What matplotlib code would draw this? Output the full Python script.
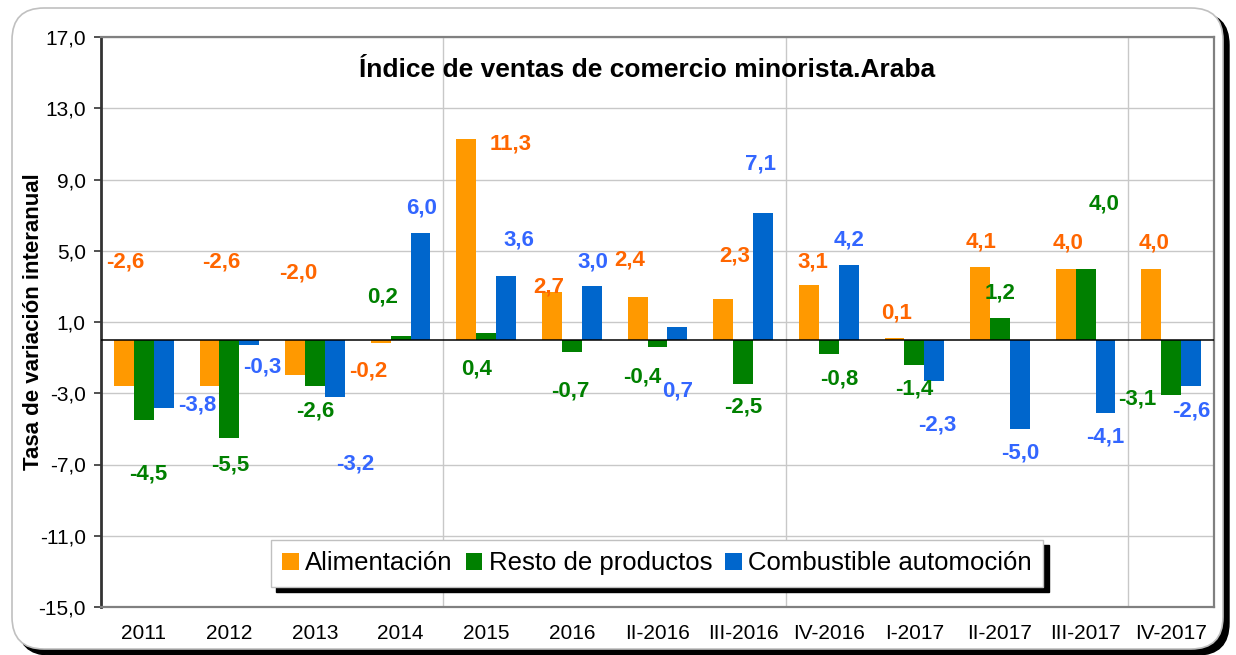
import matplotlib
matplotlib.use("Agg")
import matplotlib.pyplot as plt
from matplotlib.patches import FancyBboxPatch
import numpy as np

plt.rcParams['font.family'] = ['Liberation Sans', 'DejaVu Sans']

# %% Data
categories = ["2011", "2012", "2013", "2014", "2015", "2016", "II-2016", "III-2016",
              "IV-2016", "I-2017", "II-2017", "III-2017", "IV-2017"]
alimentacion = [-2.6, -2.6, -2.0, -0.2, 11.3, 2.7, 2.4, 2.3, 3.1, 0.1, 4.1, 4.0, 4.0]
resto = [-4.5, -5.5, -2.6, 0.2, 0.4, -0.7, -0.4, -2.5, -0.8, -1.4, 1.2, 4.0, -3.1]
combustible = [-3.8, -0.3, -3.2, 6.0, 3.6, 3.0, 0.7, 7.1, 4.2, -2.3, -5.0, -4.1, -2.6]
series_names = ["Alimentación", "Resto de productos", "Combustible automoción"]

# label placement (dx from category centre, y in axis units), as laid out in the original
lbl_alim = [(-0.22, 4.36), (-0.09, 4.36), (-0.20, 3.74), (-0.38, -1.77), (0.29, 11.0),
            (-0.27, 2.95), (-0.32, 4.47), (-0.10, 4.70), (-0.19, 4.36), (-0.21, 1.49),
            (-0.22, 5.48), (-0.20, 5.43), (-0.20, 5.43)]
lbl_resto = [(0.05, -7.51), (0.01, -7.0), (0.0, -4.02), (-0.21, 2.39), (-0.11, -1.66),
             (-0.02, -2.90), (-0.18, -2.11), (0.0, -3.80), (0.12, -2.22), (0.0, -2.78),
             (0.0, 2.62), (0.22, 7.62), (-0.40, -3.35)]
lbl_comb = [(0.62, -3.68), (0.38, -1.55), (0.47, -6.95), (0.24, 7.40), (0.38, 5.60),
            (0.25, 4.36), (0.24, -2.90), (0.20, 9.87), (0.24, 5.60), (0.27, -4.81),
            (0.24, -6.33), (0.23, -5.48), (0.23, -4.02)]

bar_colors = ["#FF9900", "#008000", "#0066CC"]
label_colors = ["#FF6600", "#008000", "#3366FF"]


def fmt(v):
    return f"{v:.1f}".replace(".", ",")


# %% Plot
fig = plt.figure(figsize=(12.36, 6.55), dpi=100)

# rounded outer frame with black shadow
shadow = FancyBboxPatch((0.18, 0.0), 12.11, 6.42, boxstyle="round,pad=0,rounding_size=0.32",
                        transform=fig.dpi_scale_trans, facecolor="black", edgecolor="black",
                        zorder=0)
frame = FancyBboxPatch((0.12, 0.06), 12.11, 6.41, boxstyle="round,pad=0,rounding_size=0.32",
                       transform=fig.dpi_scale_trans, facecolor="white", edgecolor="#C0C0C0",
                       linewidth=1.2, zorder=0.1)
fig.patches.extend([shadow, frame])

ax = fig.add_axes([101 / 1236, 1 - 607 / 655, 1113 / 1236, 570 / 655])
ax.set_zorder(2)

x = np.arange(len(categories))
w = 0.232
series = [alimentacion, resto, combustible]
labels_pos = [lbl_alim, lbl_resto, lbl_comb]
handles = []
for k, (vals, col) in enumerate(zip(series, bar_colors)):
    h = ax.bar(x + (k - 1) * w, vals, width=w, color=col, linewidth=0, zorder=3,
               label=series_names[k])
    handles.append(h)
    for i, v in enumerate(vals):
        dx, ly = labels_pos[k][i]
        ax.text(i + dx, ly, fmt(v), color=label_colors[k], fontsize=16, fontweight="bold",
                ha="center", va="center", zorder=5)

ax.axhline(0, color="black", linewidth=1.1, zorder=4)

ax.set_xlim(-0.5, len(categories) - 0.5)
ax.set_ylim(-15, 17)
yt = np.arange(-15, 17.1, 4)
ax.set_yticks(yt)
ax.set_yticklabels([fmt(v) for v in yt])
ax.set_xticks(x)
ax.set_xticklabels(categories)
ax.tick_params(axis="x", length=0, pad=12, labelsize=15)
ax.tick_params(axis="y", length=5, width=1.2, color="#333333", pad=6, labelsize=15)

ax.grid(axis="y", color="#C8C8C8", linewidth=1, zorder=0)
for gx in [3.5, 7.5, 11.5]:
    ax.axvline(gx, color="#C8C8C8", linewidth=1, zorder=0)

for side in ["top", "right", "bottom"]:
    ax.spines[side].set_color("#808080")
    ax.spines[side].set_linewidth(1.6)
ax.spines["left"].set_color("#333333")
ax.spines["left"].set_linewidth(2)

ax.set_ylabel("Tasa de variación interanual", fontsize=16, fontweight="bold", labelpad=-4)
ax.text(0.491, 0.942, "Índice de ventas de comercio minorista.Araba", transform=ax.transAxes,
        ha="center", va="center", fontsize=19, fontweight="bold")

leg = ax.legend(handles=handles, loc="center", bbox_to_anchor=(0.4996, 0.077), ncol=3,
                fontsize=18.5, frameon=True, fancybox=False, handlelength=0.65,
                handleheight=0.65, handletextpad=0.25, columnspacing=0.5, borderpad=0.45,
                borderaxespad=0,
                shadow={"ox": 4, "oy": -4, "color": "black", "alpha": 1})
leg.get_frame().set_edgecolor("#C0C0C0")
leg.get_frame().set_linewidth(1)
leg.set_zorder(6)

fig.savefig("out.png", dpi=100)
